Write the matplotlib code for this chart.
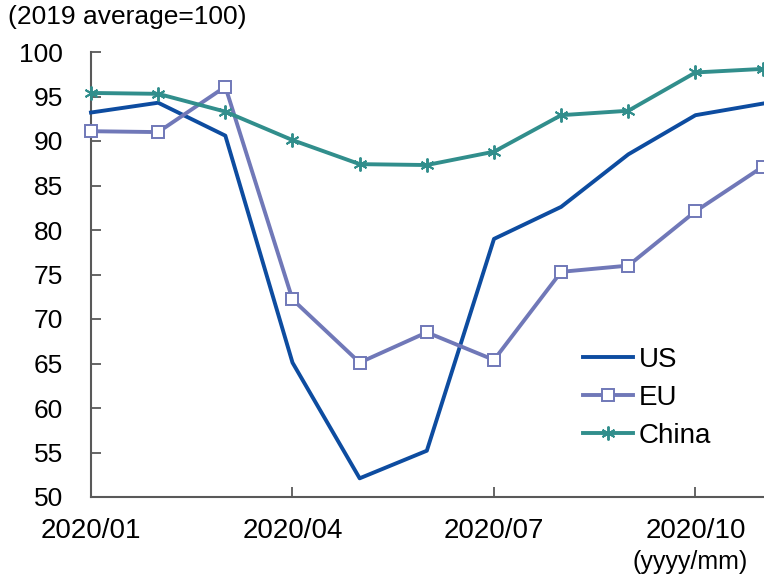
import matplotlib
matplotlib.use("Agg")
import matplotlib.pyplot as plt
from matplotlib.ticker import MultipleLocator

plt.rcParams['font.family'] = ['Liberation Sans', 'DejaVu Sans']

months = list(range(11))
tick_positions = [0, 3, 6, 9]
tick_labels = ["2020/01", "2020/04", "2020/07", "2020/10"]

us = [93.2, 94.3, 90.6, 65.1, 52.1, 55.2, 79.0, 82.6, 88.5, 92.9, 94.2]
eu = [91.1, 91.0, 96.1, 72.2, 65.1, 68.5, 65.4, 75.3, 76.0, 82.1, 87.1]
china = [95.4, 95.3, 93.3, 90.1, 87.4, 87.3, 88.8, 92.9, 93.4, 97.7, 98.1]

c_us = "#0D4CA0"
c_eu = "#7078B8"
c_cn = "#318E8C"
axis_col = "#595959"

fig = plt.figure(figsize=(7.64, 5.75), dpi=100)
ax = fig.add_axes([91 / 764, 78 / 575, (764 - 91) / 764, 445 / 575])

ax.plot(months, us, color=c_us, lw=2.8, label="US", clip_on=False, zorder=3)
ax.plot(months, eu, color=c_eu, lw=2.8, marker="s", markersize=9,
        markerfacecolor="white", markeredgecolor=c_eu, markeredgewidth=1.4,
        label="EU", clip_on=False, zorder=3)
ax.plot(months, china, color=c_cn, lw=2.8, marker=(6, 2, 0), markersize=10,
        markeredgecolor=c_cn, markeredgewidth=1.4, label="China",
        clip_on=False, zorder=3)

ax.set_xlim(0, 10.02)
ax.set_ylim(50, 100)
ax.yaxis.set_major_locator(MultipleLocator(5))
ax.set_xticks(tick_positions)
ax.set_xticklabels(tick_labels)

for s in ("top", "right"):
    ax.spines[s].set_visible(False)
for s in ("left", "bottom"):
    ax.spines[s].set_color(axis_col)
    ax.spines[s].set_linewidth(1.5)

ax.tick_params(axis="both", direction="in", length=7, width=1.3,
               color=axis_col, labelcolor="black")
ax.tick_params(axis="x", pad=15, labelsize=20)
ax.tick_params(axis="y", pad=20, labelsize=19)

fig.text(8 / 764, 1 - 5 / 575, "(2019 average=100)", fontsize=19,
         ha="left", va="top")
fig.text(748 / 764, 1 - 574 / 575, "(yyyy/mm)", fontsize=18,
         ha="right", va="bottom")

leg = ax.legend(loc="upper left", bbox_to_anchor=(583 / 764, 1 - 347 / 575),
                bbox_transform=fig.transFigure, frameon=False, fontsize=20,
                handlelength=1.8, handletextpad=0.2, labelspacing=0.435,
                borderpad=0, borderaxespad=0)

fig.savefig("out.png", dpi=100)
